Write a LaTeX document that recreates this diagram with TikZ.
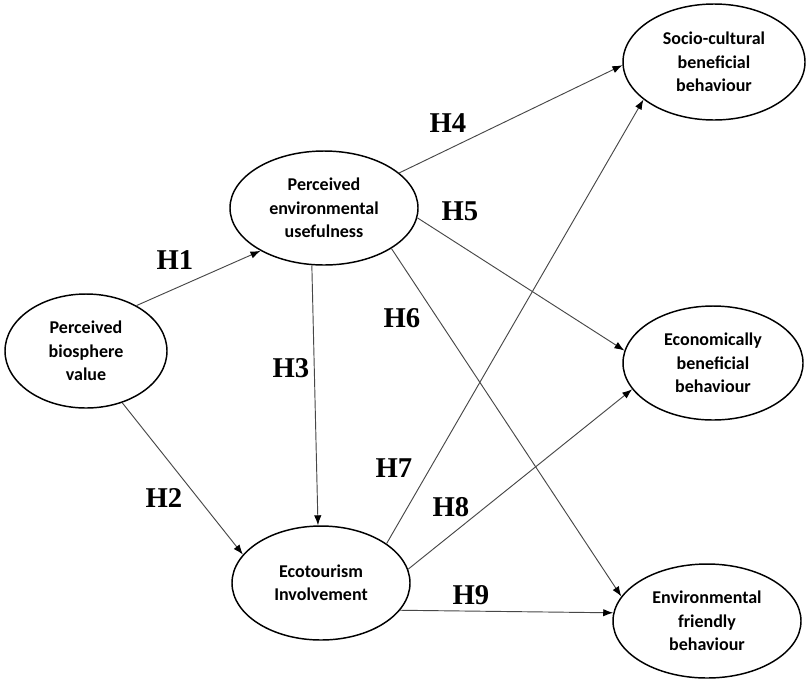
\documentclass[tikz,border=0pt]{standalone}
\usepackage{fontspec}
\setmainfont{Liberation Serif}
\newfontfamily\nodefont{Carlito}
\usetikzlibrary{arrows.meta,shapes.geometric}
\begin{document}
\begin{tikzpicture}[x=0.75pt,y=-0.75pt,
  construct/.style={ellipse, draw=black, line width=1.1pt, inner sep=0pt, align=center,
    minimum height=85.5pt, font=\nodefont\bfseries\fontsize{13.5}{17.5}\selectfont},
  hyp/.style={draw=black!72, line width=0.7pt, -{Latex[length=7.5pt,width=5.5pt,color=black]}},
  hlabel/.style={font=\bfseries\fontsize{21.5}{24}\selectfont, inner sep=0pt}]
\useasboundingbox (0,0) rectangle (809,679);
\fill[white] (0,0) rectangle (809,679);

\node[construct, minimum width=121.5pt] (pbv) at (86,351) {Perceived\\biosphere\\value};
\node[construct, minimum width=141pt] (peu) at (324,208) {Perceived\\environmental\\usefulness};
\node[construct, minimum width=133.5pt] (ei) at (321,583) {Ecotourism\\Involvement};
\node[construct, minimum width=136.5pt, minimum height=87pt] (scb) at (714,62) {Socio-cultural\\beneficial\\behaviour};
\node[construct, minimum width=135pt] (ebb) at (713,363) {Economically\\beneficial\\behaviour};
\node[construct, minimum width=141pt] (efb) at (707,621) {Environmental\\friendly\\behaviour};

\draw[hyp] (pbv.42.7) -- (peu.214.3);
\draw[hyp] (pbv.305.4) -- (ei.160.1);
\draw[hyp] (peu.258.7) -- (ei.93.2);
\draw[hyp] (peu.25.4) -- (scb.182.6);
\draw[hyp] (peu.-6.1) -- (ebb.172.9);
\draw[hyp] (peu.-31.7) -- (efb.164.2);
\draw[hyp] (ei.31.8) -- (scb.208.2);
\draw[hyp] (ei.9.1) -- (ebb.198);
\draw[hyp] (ei.-19.5) -- (efb.175);

\node[hlabel] (h1) at (175,260) {H1};
\node[hlabel] (h2) at (164,498) {H2};
\node[hlabel] (h3) at (291,368) {H3};
\node[hlabel] (h4) at (448,123) {H4};
\node[hlabel] (h5) at (460,211) {H5};
\node[hlabel] (h6) at (402,318) {H6};
\node[hlabel] (h7) at (394,468) {H7};
\node[hlabel] (h8) at (451,507) {H8};
\node[hlabel] (h9) at (471,595) {H9};
\end{tikzpicture}
\end{document}
